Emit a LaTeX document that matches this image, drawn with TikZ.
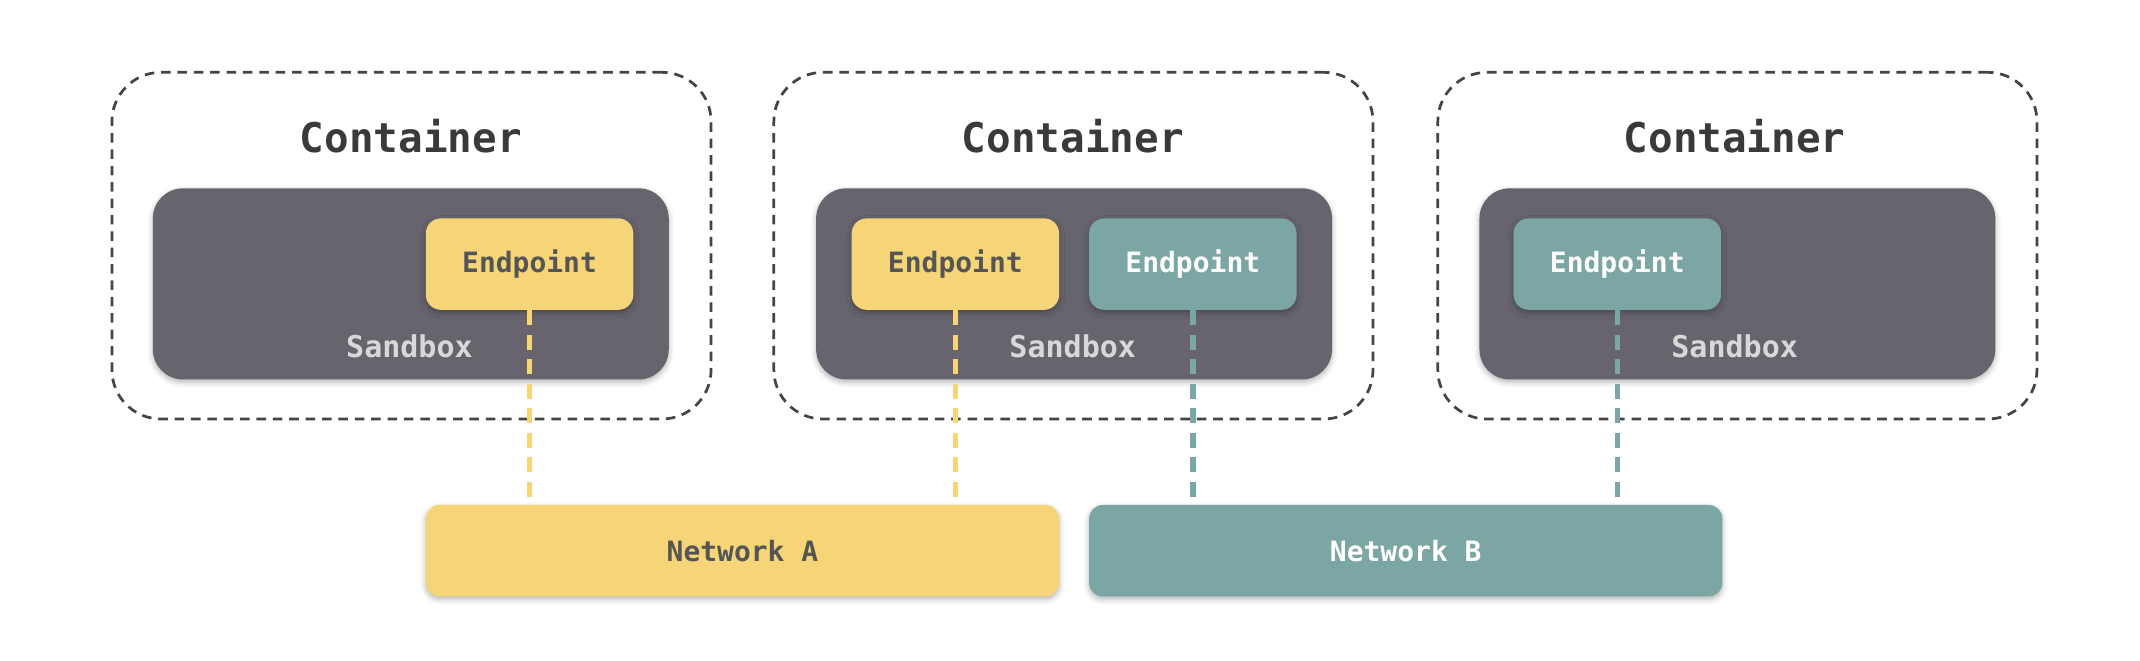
\documentclass[tikz,border=0pt]{standalone}
\usepackage{fontspec}
\setmainfont{DejaVu Sans Mono}
\usetikzlibrary{shadows.blur}
\definecolor{sbx}{HTML}{67646E}
\definecolor{yel}{HTML}{F6D578}
\definecolor{teal2}{HTML}{7BA6A4}
\definecolor{darktxt}{HTML}{555555}
\definecolor{title}{HTML}{3A3A3A}
\definecolor{sbxtxt}{HTML}{D8D8D8}
\definecolor{border}{HTML}{444444}
\tikzset{
  contbox/.style={draw=border, line width=2pt, dash pattern=on 7pt off 5pt, rounded corners=36pt, minimum width=439pt, minimum height=254pt, inner sep=0pt},
  sandbox/.style={fill=sbx, rounded corners=22pt, minimum width=378pt, minimum height=140pt, inner sep=0pt, blur shadow={shadow xshift=0pt, shadow yshift=-2pt, shadow blur radius=4pt, shadow opacity=30}},
  ep/.style={rounded corners=11pt, minimum width=152pt, minimum height=67pt, inner sep=0pt, font=\fontsize{20.5}{24}\selectfont\bfseries, blur shadow={shadow xshift=0pt, shadow yshift=-2pt, shadow blur radius=4pt, shadow opacity=30}},
  epA/.style={ep, fill=yel, text=darktxt},
  epB/.style={ep, fill=teal2, text=white},
  net/.style={rounded corners=10pt, minimum width=464pt, minimum height=67pt, inner sep=0pt, font=\fontsize{20.5}{24}\selectfont\bfseries, blur shadow={shadow xshift=0pt, shadow yshift=-2pt, shadow blur radius=4pt, shadow opacity=30}},
  titlelbl/.style={text=title, font=\fontsize{30}{36}\selectfont\bfseries, inner sep=0pt},
  sbxlbl/.style={text=sbxtxt, font=\fontsize{22}{26}\selectfont\bfseries, inner sep=0pt},
  linkA/.style={draw=yel, line width=4pt, dash pattern=on 11pt off 7pt},
  linkB/.style={draw=teal2, line width=4pt, dash pattern=on 11pt off 7pt},
}
\begin{document}
\begin{tikzpicture}[x=1pt,y=-1pt]
\useasboundingbox (0,0) rectangle (1568,484);
% containers
\node[contbox] (c1) at (301.5,180) {};
\node[contbox] (c2) at (786.5,180) {};
\node[contbox] (c3) at (1273,180) {};
\node[titlelbl] (t1) at (301,100) {Container};
\node[titlelbl] (t2) at (786,100) {Container};
\node[titlelbl] (t3) at (1271,100) {Container};
% sandboxes
\node[sandbox] (s1) at (301,208) {};
\node[sandbox] (s2) at (787,208) {};
\node[sandbox] (s3) at (1273,208) {};
\node[sbxlbl] (l1) at (300,254) {Sandbox};
\node[sbxlbl] (l2) at (786,254) {Sandbox};
\node[sbxlbl] (l3) at (1271,254) {Sandbox};
% endpoints
\node[epA] (e1) at (388,193.5) {Endpoint};
\node[epA] (e2) at (700,193.5) {Endpoint};
\node[epB] (e3) at (874,193.5) {Endpoint};
\node[epB] (e4) at (1185,193.5) {Endpoint};
% networks
\node[net, fill=yel, text=darktxt] (na) at (544,403.5) {Network A};
\node[net, fill=teal2, text=white] (nb) at (1030,403.5) {Network B};
% links
\draw[linkA] (e1.south) -- (e1.south |- na.north);
\draw[linkA] (e2.south) -- (e2.south |- na.north);
\draw[linkB] (e3.south) -- (e3.south |- nb.north);
\draw[linkB] (e4.south) -- (e4.south |- nb.north);
\end{tikzpicture}
\end{document}
